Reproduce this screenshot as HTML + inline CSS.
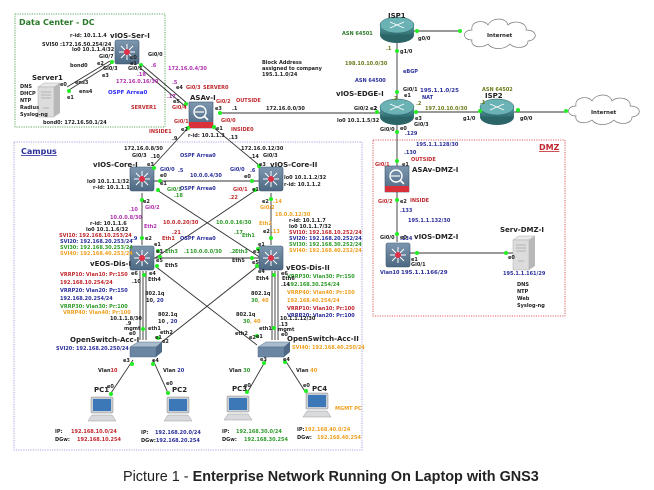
<!DOCTYPE html>
<html><head><meta charset="utf-8"><style>
html,body{margin:0;padding:0;background:#fff}
svg{display:block}
text{font-family:"DejaVu Sans","Liberation Sans",sans-serif;font-size:5px;font-weight:bold;fill:#222}
.h{font-size:8px;fill:#222}
.r{fill:#c0282d}.b{fill:#2a2f9a}.g{fill:#2f9a2a}.o{fill:#f0a020}.m{fill:#b030b0}.og{fill:#6b7a1a}.dg{fill:#2a7a2a}
.d{fill:#22ee22}
</style></head><body>
<svg width="654" height="490" viewBox="0 0 654 490" xmlns="http://www.w3.org/2000/svg">
<defs>
<linearGradient id="sw" x1="0" y1="0" x2="0" y2="1"><stop offset="0" stop-color="#7e97b0"/><stop offset="1" stop-color="#4d6882"/></linearGradient>
<linearGradient id="rt" x1="0" y1="0" x2="0" y2="1"><stop offset="0" stop-color="#5fa3a6"/><stop offset="1" stop-color="#2f6c70"/></linearGradient>
<g id="L3"><rect x="0" y="0" width="24" height="24" rx="2" fill="url(#sw)" stroke="#3e5670" stroke-width="0.6"/><g stroke="#fff" stroke-width="1"><line x1="12" y1="4" x2="12" y2="20"/><line x1="4" y1="12" x2="20" y2="12"/><line x1="6" y1="6" x2="18" y2="18"/><line x1="18" y1="6" x2="6" y2="18"/></g><circle cx="12" cy="12" r="3" fill="#e0304a"/></g>
<g id="RT"><ellipse cx="0" cy="5" rx="17" ry="8" fill="#2c6568"/><rect x="-17" y="-5" width="34" height="10" fill="url(#rt)"/><ellipse cx="0" cy="-5" rx="17" ry="8" fill="#6bb2b5" stroke="#2c6568" stroke-width="0.5"/><g stroke="#fff" stroke-width="0.9"><line x1="-7" y1="-8" x2="7" y2="-2"/><line x1="7" y1="-8" x2="-7" y2="-2"/></g></g>
<g id="ASA"><rect x="0" y="0" width="24" height="26" fill="url(#sw)" stroke="#3e5670" stroke-width="0.6"/><rect x="0" y="20" width="24" height="6" fill="#d9303a"/><circle cx="11" cy="10" r="6" fill="none" stroke="#fff" stroke-width="1.4"/><line x1="15" y1="14" x2="19" y2="18" stroke="#fff" stroke-width="1.6"/><line x1="6" y1="10" x2="15" y2="10" stroke="#fff" stroke-width="1.2"/></g>
<g id="ACC"><polygon points="0,5 8,0 32,0 26,5" fill="#a8bccd" stroke="#56708a" stroke-width="0.5"/><rect x="0" y="5" width="26" height="10" fill="#6a86a2" stroke="#56708a" stroke-width="0.5"/><polygon points="26,5 32,0 32,10 26,15" fill="#4f6a86"/></g>
<g id="PC"><rect x="3" y="0" width="22" height="16" rx="1" fill="#c9ced4" stroke="#888" stroke-width="0.5"/><rect x="5" y="2" width="18" height="12" fill="#3c78b8"/><polygon points="0,24 4,18 24,18 28,24" fill="#d8dadd" stroke="#999" stroke-width="0.5"/></g>
<g id="SRV"><polygon points="0,4 6,0 22,0 16,4" fill="#e9e9e9" stroke="#aaa" stroke-width="0.5"/><rect x="0" y="4" width="16" height="30" fill="#dcdcdc" stroke="#aaa" stroke-width="0.5"/><polygon points="16,4 22,0 22,30 16,34" fill="#b8b8b8"/><g stroke="#999" stroke-width="0.6"><line x1="3" y1="9" x2="13" y2="9"/><line x1="3" y1="12" x2="13" y2="12"/><line x1="3" y1="15" x2="13" y2="15"/><line x1="5" y1="25" x2="11" y2="25"/></g></g>
<g id="CLD"><path d="M-28,5 C-38,5 -38,-5 -28,-5 C-30,-14 -16,-16 -12,-10 C-8,-18 6,-18 8,-10 C14,-16 28,-12 26,-5 C38,-5 38,5 28,6 C28,14 14,14 10,9 C4,15 -8,15 -12,9 C-18,14 -30,12 -28,5 Z" fill="#fff" stroke="#777" stroke-width="0.7"/></g>
</defs>

<rect x="15" y="14" width="150" height="113" fill="none" stroke="#2f8a2f" stroke-width="0.8" stroke-dasharray="1.2,1.2"/>
<text x="19" y="25" class="h dg" style="font-size:8px;fill:#2a7a2a">Data Center - DC</text>
<rect x="14" y="142" width="348" height="308" fill="none" stroke="#8a8ad8" stroke-width="0.8" stroke-dasharray="1.2,1.2"/>
<text x="21" y="154" style="font-size:8px;fill:#2a2f9a;text-decoration:underline">Campus</text>
<rect x="373" y="140" width="192" height="176" fill="none" stroke="#d03030" stroke-width="0.8" stroke-dasharray="1.2,1.2"/>
<text x="539" y="150" style="font-size:8px;fill:#c0282d;text-decoration:underline">DMZ</text>

<g stroke="#333" stroke-width="0.9" fill="none">
<line x1="112" y1="63" x2="69" y2="90"/><line x1="110" y1="61" x2="67" y2="87"/>
<line x1="141" y1="64" x2="188" y2="104"/><line x1="139" y1="67" x2="186" y2="107"/>
<line x1="220" y1="113" x2="380" y2="113"/>
<line x1="188" y1="128" x2="153" y2="166"/>
<line x1="213" y1="127" x2="260" y2="166"/>
<line x1="154" y1="181" x2="259" y2="181"/>
<line x1="157" y1="190" x2="261" y2="258"/>
<line x1="256" y1="190" x2="155" y2="258"/>
<line x1="142" y1="193" x2="142" y2="245"/>
<line x1="271" y1="193" x2="271" y2="245"/>
<line x1="154" y1="258" x2="259" y2="258"/>
<line x1="155" y1="266" x2="257" y2="345"/>
<line x1="258" y1="266" x2="158" y2="345"/>
<line x1="140" y1="271" x2="140" y2="340"/><line x1="143" y1="271" x2="143" y2="340"/><line x1="146" y1="271" x2="146" y2="340"/>
<line x1="272" y1="271" x2="272" y2="340"/><line x1="275" y1="271" x2="275" y2="340"/><line x1="278" y1="271" x2="278" y2="340"/>
<line x1="133" y1="360" x2="111" y2="393"/><line x1="153" y1="360" x2="168" y2="393"/>
<line x1="266" y1="360" x2="247" y2="393"/><line x1="285" y1="360" x2="306" y2="393"/>
<line x1="397" y1="40" x2="397" y2="100"/>
<line x1="414" y1="31" x2="460" y2="31"/>
<line x1="414" y1="112" x2="480" y2="112"/>
<line x1="514" y1="112" x2="566" y2="112"/>
<line x1="397" y1="120" x2="397" y2="166"/>
<line x1="397" y1="192" x2="397" y2="242"/>
<line x1="410" y1="253" x2="513" y2="253"/>
</g>

<use href="#L3" x="115" y="40"/>
<use href="#SRV" x="38" y="83"/>
<use href="#ASA" x="189" y="102"/>
<use href="#RT" x="397" y="30"/>
<use href="#CLD" x="500" y="35"/>
<use href="#RT" x="397" y="112"/>
<use href="#RT" x="497" y="112"/>
<use href="#CLD" x="604" y="111"/>
<use href="#L3" x="130" y="167"/>
<use href="#L3" x="259" y="167"/>
<use href="#L3" x="130" y="246"/>
<use href="#L3" x="259" y="246"/>
<use href="#ACC" x="130" y="342"/>
<use href="#ACC" x="258" y="342"/>
<use href="#PC" x="88" y="397"/>
<use href="#PC" x="164" y="397"/>
<use href="#PC" x="224" y="396"/>
<use href="#PC" x="303" y="393"/>
<use href="#ASA" x="385" y="166"/>
<use href="#L3" x="386" y="243"/>
<use href="#SRV" x="513" y="236"/>

<g class="d">
<circle cx="112" cy="62" r="2"/><circle cx="141" cy="65" r="2"/><circle cx="69" cy="91" r="2"/><circle cx="186" cy="104" r="2"/>
<circle cx="220" cy="113" r="2"/><circle cx="188" cy="128" r="2"/><circle cx="214" cy="127" r="2"/>
<circle cx="154" cy="168" r="2"/><circle cx="160" cy="181" r="2"/><circle cx="158" cy="190" r="2"/><circle cx="142" cy="200" r="2"/>
<circle cx="259" cy="166" r="2"/><circle cx="252" cy="181" r="2"/><circle cx="255" cy="190" r="2"/><circle cx="271" cy="199" r="2"/>
<circle cx="142" cy="238" r="2"/><circle cx="158" cy="251" r="2"/><circle cx="160" cy="257" r="2"/><circle cx="157" cy="266" r="2"/><circle cx="144" cy="275" r="2"/>
<circle cx="271" cy="238" r="2"/><circle cx="258" cy="249" r="2"/><circle cx="252" cy="258" r="2"/><circle cx="257" cy="266" r="2"/><circle cx="274" cy="275" r="2"/>
<circle cx="143" cy="329" r="2"/><circle cx="158" cy="338" r="2"/><circle cx="257" cy="336" r="2"/><circle cx="274" cy="328" r="2"/>
<circle cx="132" cy="364" r="2"/><circle cx="153" cy="364" r="2"/><circle cx="264" cy="363" r="2"/><circle cx="285" cy="362" r="2"/>
<circle cx="111" cy="394" r="2"/><circle cx="168" cy="393" r="2"/><circle cx="247" cy="392" r="2"/><circle cx="306" cy="391" r="2"/>
<circle cx="397" cy="51" r="2"/><circle cx="417" cy="31" r="2"/><circle cx="460" cy="31" r="2"/>
<circle cx="397" cy="92" r="2"/><circle cx="377" cy="112" r="2"/><circle cx="416" cy="112" r="2"/><circle cx="397" cy="132" r="2"/>
<circle cx="480" cy="111" r="2"/><circle cx="518" cy="110" r="2"/><circle cx="566" cy="111" r="2"/>
<circle cx="397" cy="161" r="2"/><circle cx="397" cy="200" r="2"/><circle cx="397" cy="234" r="2"/><circle cx="417" cy="253" r="2"/><circle cx="506" cy="253" r="2"/>
</g>

<text x="70" y="37">r-id: 10.1.1.4</text>
<text x="110" y="38" class="h" style="font-size:7px">vIOS-Ser-I</text>
<text x="42" y="46">SVI50 :172.16.50.254/24</text>
<text x="72" y="51">lo0 10.1.1.4/32</text>
<text x="99" y="58">Gi0/7</text><text x="97" y="65">e2</text><text x="103" y="70">Gi0/3</text><text x="102" y="77">e3</text>
<text x="70" y="67">bond0</text>
<text x="32" y="80" class="h" style="font-size:7px">Server1</text>
<text x="75" y="84">ens3</text><text x="79" y="93">ens4</text><text x="60" y="86">e0</text><text x="67" y="99">e1</text>
<text x="20" y="88">DNS</text><text x="20" y="95">DHCP</text><text x="20" y="102">NTP</text><text x="20" y="109">Radius</text><text x="20" y="116">Syslog-ng</text>
<text x="43" y="124">bond0: 172.16.50.1/24</text>
<text x="130" y="59">e0</text><text x="148" y="56">Gi0/0</text><text x="130" y="65">e1</text><text x="128" y="70">Gi0/1</text><text x="137" y="76" class="m">.18</text><text x="151" y="67" class="m">.6</text>
<text x="168" y="70" class="m">172.16.0.4/30</text>
<text x="116" y="83" class="m">172.16.0.16/30</text>
<text x="108" y="94" style="fill:#2a2af0;font-size:5.5px">OSPF Arrea0</text>
<text x="172" y="84" class="m">.5</text><text x="176" y="89">e4</text><text x="186" y="89" class="r">Gi0/3</text><text x="203" y="89" class="r">SERVER0</text>
<text x="167" y="98" class="m">.17</text><text x="173" y="103">e5</text><text x="190" y="100" class="h" style="font-size:7px">ASAv-I</text>
<text x="172" y="109" class="r">Gi0/4</text><text x="131" y="109" class="r">SERVER1</text>
<text x="216" y="103" class="r">Gi0/2</text><text x="236" y="102" class="r">OUTSIDE</text>
<text x="215" y="110">e3</text><text x="232" y="110">.1</text><text x="266" y="110">172.16.0.0/30</text><text x="372" y="110">.2</text>
<text x="262" y="64">Block Address</text><text x="262" y="70">assigned to company</text><text x="262" y="76">195.1.1.0/24</text>
<text x="174" y="123" class="r">Gi0/1</text><text x="181" y="131">e2</text><text x="149" y="133" class="r">INSIDE1</text>
<text x="221" y="122" class="r">Gi0/0</text><text x="216" y="130">e1</text><text x="231" y="131" class="r">INSIDE0</text>
<text x="188" y="137">r-id: 10.1.1.3</text><text x="172" y="140">.9</text><text x="229" y="139">.13</text>

<text x="388" y="18" class="h" style="font-size:7px">ISP1</text>
<text x="342" y="35" class="dg">ASN 64501</text>
<text x="418" y="40">g0/0</text><text x="487" y="37" style="font-size:5.5px">Internet</text>
<text x="386" y="50" class="og">.1</text><text x="400" y="53">g1/0</text>
<text x="345" y="65" class="og">198.10.10.0/30</text><text x="403" y="73" class="b">eBGP</text>
<text x="355" y="82" class="b">ASN 64500</text>
<text x="336" y="96" class="h" style="font-size:7px">vIOS-EDGE-I</text>
<text x="403" y="91">Gi0/1</text><text x="404" y="97">e1</text><text x="420" y="92" class="b" style="font-size:5.5px">195.1.1.0/25</text><text x="422" y="99" class="b">NAT</text>
<text x="392" y="100" class="og">.2</text><text x="416" y="105" class="og">.2</text>
<text x="354" y="110">Gi0/2</text><text x="370" y="110">e2</text>
<text x="337" y="122">lo0 10.1.1.5/32</text><text x="415" y="120">e3</text><text x="414" y="126">Gi0/3</text>
<text x="380" y="131">Gi0/0</text><text x="400" y="130">e0</text><text x="405" y="135" class="b">.129</text>
<text x="425" y="110" class="og">197.10.10.0/30</text>
<text x="482" y="91" class="og">ASN 64502</text><text x="485" y="98" class="h" style="font-size:7px">ISP2</text>
<text x="480" y="104" class="og">.1</text><text x="463" y="120">g1/0</text><text x="520" y="120">g0/0</text>
<text x="591" y="114" style="font-size:5.5px">Internet</text>

<text x="416" y="146" class="b">195.1.1.128/30</text>
<text x="404" y="154" class="b">.130</text><text x="411" y="161" class="r">OUTSIDE</text>
<text x="375" y="166" class="r">Gi0/1</text><text x="402" y="166">e1</text>
<text x="412" y="172" class="h" style="font-size:7px">ASAv-DMZ-I</text>
<text x="378" y="203" class="r">Gi0/2</text><text x="400" y="203">e2</text><text x="410" y="202" class="r">INSIDE</text>
<text x="400" y="212" class="b">.133</text><text x="408" y="222" class="b">195.1.1.132/30</text>
<text x="400" y="240" class="b">.134</text><text x="380" y="239">Gi0/0</text><text x="400" y="239">e0</text>
<text x="414" y="239" class="h" style="font-size:7px">vIOS-DMZ-I</text>
<text x="411" y="261">e1</text><text x="411" y="266">Gi0/1</text>
<text x="380" y="274" class="b">Vlan10</text><text x="401" y="274" class="b" style="font-size:5.5px">195.1.1.166/29</text>
<text x="500" y="232" class="h" style="font-size:7px">Serv-DMZ-I</text>
<text x="508" y="259">e0</text><text x="503" y="275" class="b">195.1.1.161/29</text>
<text x="517" y="286">DNS</text><text x="517" y="293">NTP</text><text x="517" y="300">Web</text><text x="517" y="307">Syslog-ng</text>

<text x="124" y="150">172.16.0.8/30</text><text x="241" y="150">172.16.0.12/30</text>
<text x="132" y="157">Gi0/3</text><text x="151" y="158">.10</text><text x="180" y="157" class="b">OSPF Arrea0</text>
<text x="250" y="158">.14</text><text x="263" y="157">Gi0/3</text>
<text x="147" y="166">e3</text><text x="93" y="167" class="h" style="font-size:7px">vIOS-Core-I</text>
<text x="259" y="166">e3</text><text x="270" y="167" class="h" style="font-size:7px">vIOS-Core-II</text>
<text x="160" y="171" class="b">Gi0/0</text><text x="178" y="172" class="b">.5</text><text x="160" y="177">e0</text>
<text x="190" y="177" class="b">10.0.0.4/30</text><text x="230" y="171" class="b">Gi0/0</text><text x="250" y="172" class="b">.6</text><text x="244" y="178">e0</text>
<text x="87" y="183">lo0 10.1.1.1/32</text><text x="93" y="189">r-id: 10.1.1.1</text>
<text x="284" y="179">lo0 10.1.1.2/32</text><text x="284" y="186">r-id: 10.1.1.2</text>
<text x="160" y="185">e1</text><text x="167" y="191" class="g">Gi0/1</text><text x="174" y="197" class="g">.18</text>
<text x="180" y="190" class="b">OSPF Arrea0</text><text x="233" y="191" class="r">Gi0/1</text><text x="252" y="191">e1</text><text x="229" y="199" class="r">.22</text>
<text x="143" y="203">e2</text><text x="145" y="209" class="m">Gi0/2</text><text x="129" y="211" class="m">.10</text>
<text x="262" y="203">e2</text><text x="273" y="203" class="o">.14</text><text x="260" y="209" class="o">Gi0/2</text>
<text x="110" y="219" class="m">10.0.0.8/30</text><text x="275" y="216" class="o">10.0.0.12/30</text>
<text x="163" y="224" class="r">10.0.0.20/30</text><text x="216" y="224" class="g">10.0.0.16/30</text>
<text x="259" y="225" class="o">Eth2</text><text x="144" y="228" class="m">Eth2</text>
<text x="90" y="225">r-id: 10.1.1.6</text><text x="86" y="231">lo0 10.1.1.6/32</text>
<text x="59" y="237" class="r">SVI10: 192.168.10.253/24</text>
<text x="60" y="243" class="b">SVI20: 192.168.20.253/24</text>
<text x="60" y="249" class="g">SVI30: 192.168.30.253/24</text>
<text x="60" y="255" class="o">SVI40: 192.168.40.253/24</text>
<text x="289" y="222">r-id: 10.1.1.7</text><text x="289" y="228">lo0 10.1.1.7/32</text>
<text x="289" y="234" class="r">SVI10: 192.168.10.252/24</text>
<text x="289" y="240" class="b">SVI20: 192.168.20.252/24</text>
<text x="289" y="246" class="g">SVI30: 192.168.30.252/24</text>
<text x="289" y="252" class="o">SVI40: 192.168.40.252/24</text>
<text x="172" y="234" class="r">.21</text><text x="162" y="240" class="r">Eth1</text><text x="234" y="234" class="g">.17</text><text x="242" y="237" class="g">Eth1</text>
<text x="263" y="233">e2</text><text x="271" y="233" class="o">.13</text>
<text x="132" y="240" class="b">.9</text><text x="145" y="240">e2</text><text x="180" y="240" class="b">OSPF Arrea0</text>
<text x="154" y="246">e1</text><text x="258" y="246">e1</text>
<text x="156" y="253">e3</text><text x="165" y="253" class="g">Eth3</text><text x="184" y="253" class="g">.1</text><text x="190" y="253" class="g">10.0.0.0/30</text><text x="230" y="253" class="g">.2</text><text x="235" y="253" class="g">Eth3</text><text x="253" y="253">e3</text>
<text x="156" y="262">e5</text><text x="165" y="267">Eth5</text><text x="232" y="262">Eth5</text><text x="252" y="264">e5</text>
<text x="90" y="266" class="h" style="font-size:7px">vEOS-Dis-I</text><text x="286" y="270" class="h" style="font-size:7px">vEOS-Dis-II</text>
<text x="287" y="278" class="g">VRRP30: Vlan30: Pr:150</text>
<text x="287" y="286" class="g">192.168.30.254/24</text>
<text x="287" y="294" class="o">VRRP40: Vlan40: Pr:150</text>
<text x="287" y="302" class="o">192.168.40.254/24</text>
<text x="287" y="310" class="r">VRRP10: Vlan10: Pr:100</text>
<text x="287" y="317" class="b">VRRP20: Vlan20: Pr:100</text>
<text x="60" y="276" class="r">VRRP10: Vlan10: Pr:150</text>
<text x="60" y="284" class="r">192.168.10.254/24</text>
<text x="60" y="292" class="b">VRRP20: Vlan20: Pr:150</text>
<text x="60" y="300" class="b">192.168.20.254/24</text>
<text x="60" y="308" class="g">VRRP30: Vlan30: Pr:100</text>
<text x="63" y="314" class="o">VRRP40: Vlan40: Pr:100</text>
<text x="131" y="275">e6</text><text x="149" y="275">e4</text><text x="148" y="281">Eth4</text><text x="132" y="283">.10</text>
<text x="258" y="273">e4</text><text x="256" y="280">Eth4</text><text x="281" y="275">e6</text><text x="282" y="280">Eth6</text><text x="281" y="286">.14</text>
<text x="145" y="295">802.1q</text><text x="146" y="302">10<tspan class="b">, 20</tspan></text>
<text x="251" y="295">802.1q</text><text x="251" y="302" class="g">30<tspan class="o">, 40</tspan></text>
<text x="110" y="320">10.1.1.8/30</text><text x="280" y="320">10.1.1.12/30</text>
<text x="158" y="316">802.1q</text><text x="158" y="323">10 <tspan class="b">, 20</tspan></text>
<text x="236" y="316">802.1q</text><text x="243" y="323" class="g">30<tspan class="o">, 40</tspan></text>
<text x="126" y="325">.9</text><text x="124" y="330">mgmt</text><text x="148" y="330">eth1</text><text x="129" y="335">e0</text><text x="160" y="334">eth2</text><text x="155" y="339">e1</text><text x="162" y="343">e2</text>
<text x="279" y="326">.13</text><text x="278" y="331">mgmt</text><text x="259" y="330">eth1</text><text x="235" y="335">eth2</text><text x="249" y="339">e2</text><text x="256" y="338">e1</text><text x="281" y="336">e0</text>
<text x="70" y="342" class="h" style="font-size:7px">OpenSwitch-Acc-I</text>
<text x="56" y="350" class="b">SVI20: 192.168.20.250/24</text>
<text x="287" y="341" class="h" style="font-size:7px">OpenSwitch-Acc-II</text>
<text x="292" y="349" class="o">SVI40: 192.168.40.250/24</text>
<text x="123" y="362">e3</text><text x="152" y="362">e4</text><text x="260" y="361">e3</text><text x="283" y="361">e4</text>
<text x="98" y="372">Vlan<tspan class="r">10</tspan></text><text x="163" y="372">Vlan <tspan class="b">20</tspan></text>
<text x="229" y="372">Vlan <tspan class="g">30</tspan></text><text x="296" y="372">Vlan <tspan class="o">40</tspan></text>
<text x="107" y="388">e0</text><text x="166" y="385">e0</text><text x="244" y="387">e0</text><text x="303" y="387">e0</text>
<text x="94" y="392" class="h" style="font-size:7px">PC1</text><text x="172" y="392" class="h" style="font-size:7px">PC2</text>
<text x="232" y="391" class="h" style="font-size:7px">PC3</text><text x="312" y="391" class="h" style="font-size:7px">PC4</text>
<text x="335" y="410" class="o">MGMT PC</text>
<text x="55" y="433">IP:</text><text x="71" y="433" class="r">192.168.10.0/24</text>
<text x="55" y="441">DGw:</text><text x="77" y="441" class="r">192.168.10.254</text>
<text x="141" y="434">IP:</text><text x="155" y="434" class="b">192.168.20.0/24</text>
<text x="141" y="442">DGw:<tspan class="b">192.168.20.254</tspan></text>
<text x="222" y="433">IP:</text><text x="236" y="433" class="g">192.168.30.0/24</text>
<text x="222" y="441">DGw:</text><text x="244" y="441" class="g">192.168.30.254</text>
<text x="297" y="431">IP:<tspan class="o">192.168.40.0/24</tspan></text>
<text x="297" y="439">DGw:</text><text x="317" y="439" class="o">192.168.40.254</text>

<text x="123" y="481" style="font-family:'Liberation Sans',sans-serif;font-size:14.4px;font-weight:normal;fill:#222">Picture 1 - <tspan style="font-weight:bold">Enterprise Network Running On Laptop with GNS3</tspan></text>
</svg>
</body></html>
